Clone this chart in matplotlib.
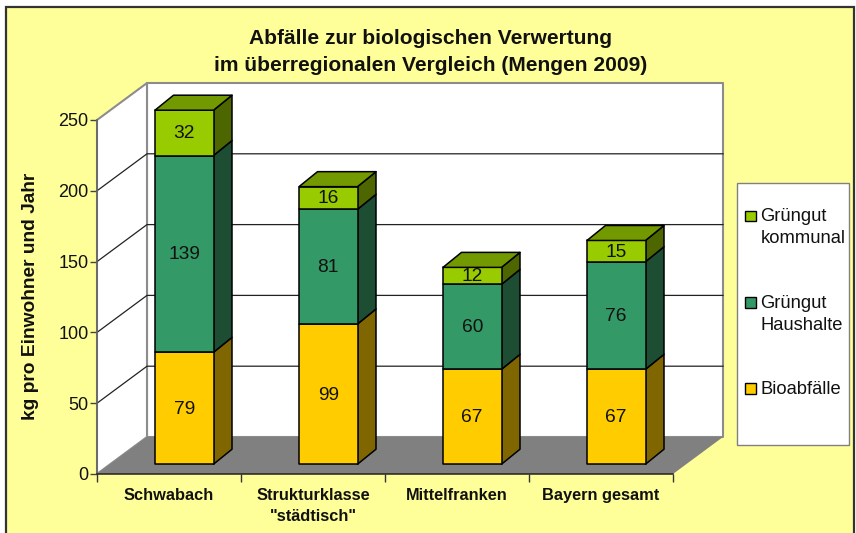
import matplotlib
matplotlib.use('Agg')
import matplotlib.pyplot as plt
from matplotlib.patches import Polygon, Rectangle

plt.rcParams['font.family'] = ['Liberation Sans', 'DejaVu Sans']

regions = ['Schwabach', 'Strukturklasse\n"städtisch"', 'Mittelfranken', 'Bayern gesamt']
bio = [79, 99, 67, 67]
haushalte = [139, 81, 60, 76]
kommunal = [32, 16, 12, 15]
y_ticks = [0, 50, 100, 150, 200, 250]
title = 'Abfälle zur biologischen Verwertung\nim überregionalen Vergleich (Mengen 2009)'
y_label = 'kg pro Einwohner und Jahr'

# front, side
colors_bio = ('#FFCC00', '#806600')
colors_haus = ('#339966', '#1D4D33')
colors_komm = ('#99CC00', '#4D6600')
top_color = '#739900'

W, H = 856, 533
fig = plt.figure(figsize=(W / 100, H / 100), dpi=100, facecolor='white')

# background layer in pixels
bg = fig.add_axes([0, 0, 1, 1], zorder=0)
bg.set_xlim(0, W)
bg.set_ylim(H, 0)
bg.axis('off')
bg.add_patch(Rectangle((6, 7), 848.5, 530, fc='#FFFF99', ec='#333333', lw=1.6))
bg.text(431, 52, title, ha='center', va='center', fontsize=15.1, fontweight='bold',
        linespacing=1.55, color='#111111')
bg.text(31, 296, y_label, rotation=90, ha='center', va='center', fontsize=13.8,
        fontweight='bold', color='#111111')

# legend
bg.add_patch(Rectangle((737, 183), 112, 262, fc='white', ec='#808080', lw=1))
leg_items = [('Grüngut\nkommunal', colors_komm[0], 216),
             ('Grüngut\nHaushalte', colors_haus[0], 302.5),
             ('Bioabfälle', colors_bio[0], 388.7)]
for lab, col, yy in leg_items:
    bg.add_patch(Rectangle((745.3, yy - 5.3), 10.6, 10.6, fc=col, ec='black', lw=1))
    bg.text(760.5, yy - 8, lab, ha='left', va='top', fontsize=13.2, linespacing=1.4,
            color='#111111')

ax = fig.add_axes([97 / W, 1 - 474 / H, 576 / W, 354 / H], zorder=1)
ax.patch.set_visible(False)
ax.set_xlim(-0.5, 3.5)
ax.set_ylim(0, 250)

px_x = 1 / 144
px_y = 250 / 354
wall_dx = 50 * px_x
wall_dy = 37 * px_y
depth_x = 18.5 * px_x
depth_y = 15 * px_y
lift = 9.8 * px_y
bar_w = 58.5 * px_x
bar_in = 58 * px_x


def poly(pts, fc, ec='none', lw=0, z=1):
    ax.add_patch(Polygon(pts, closed=True, fc=fc, ec=ec, lw=lw, zorder=z, clip_on=False,
                         joinstyle='round'))


x0, x1 = -0.5, 3.5
top = 250
# walls and floor
poly([(x0 + wall_dx, wall_dy), (x1 + wall_dx, wall_dy), (x1 + wall_dx, top + wall_dy),
      (x0 + wall_dx, top + wall_dy)], 'white', '#8C8C8C', 1.5, 1)
poly([(x0, 0), (x0 + wall_dx, wall_dy), (x0 + wall_dx, top + wall_dy), (x0, top)],
     'white', '#8C8C8C', 1.5, 1)
poly([(x0, 0), (x1, 0), (x1 + wall_dx, wall_dy), (x0 + wall_dx, wall_dy)], '#808080', z=2)

for v in y_ticks[1:-1]:
    ax.plot([x0, x0 + wall_dx, x1 + wall_dx], [v, v + wall_dy, v + wall_dy], color='#222222',
            lw=0.9, zorder=1.5, clip_on=False)

# bars
for i in range(len(regions)):
    left = i - 0.5 + bar_in
    right = left + bar_w
    base = lift
    segs = [(bio[i], colors_bio), (haushalte[i], colors_haus), (kommunal[i], colors_komm)]
    for val, (front, side) in segs:
        t = base + val
        z = 3 + i
        poly([(right, base), (right + depth_x, base + depth_y), (right + depth_x, t + depth_y),
              (right, t)], side, 'black', 1.1, z)
        poly([(left, base), (right, base), (right, t), (left, t)], front, 'black', 1.1, z + 0.1)
        ax.text((left + right) / 2, (base + t) / 2 - 0.7, str(val), ha='center', va='center',
                fontsize=13.8, color='#111111', zorder=z + 0.2)
        base = t
    poly([(left, base), (right, base), (right + depth_x, base + depth_y),
          (left + depth_x, base + depth_y)], top_color, 'black', 1.1, 3 + i + 0.1)

# axes
for s in ['top', 'right']:
    ax.spines[s].set_visible(False)
ax.spines['left'].set_color('#666666')
ax.spines['left'].set_linewidth(1.2)
ax.spines['bottom'].set_color('#222222')
ax.spines['bottom'].set_linewidth(1.1)
ax.spines['left'].set_zorder(10)
ax.spines['bottom'].set_zorder(10)

ax.set_yticks(y_ticks)
ax.tick_params(axis='y', labelsize=13, length=5, width=1, color='#444444', pad=1,
               labelcolor='#111111')
ax.set_xticks([-0.5, 0.5, 1.5, 2.5, 3.5])
ax.set_xticklabels([])
ax.tick_params(axis='x', which='major', length=6, width=1, color='#333333')
ax.set_xticks(range(len(regions)), minor=True)
ax.set_xticklabels(regions, minor=True, fontsize=11.8, fontweight='bold', linespacing=1.5,
                   color='#111111')
ax.tick_params(axis='x', which='minor', length=0, pad=10)

fig.savefig('out.png', dpi=100, facecolor=fig.get_facecolor())
